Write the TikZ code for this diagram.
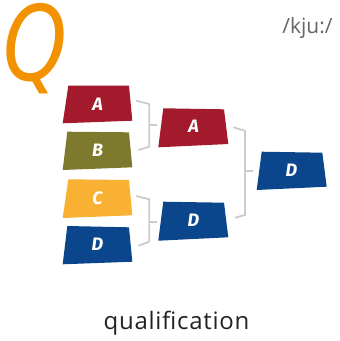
\documentclass[tikz,border=0pt]{standalone}
\usepackage{fontspec}
\setmainfont{Open Sans}
\newfontfamily\kjufont{Open Sans}
\newfontfamily\qualfont[LetterSpace=3]{Open Sans}
\newfontfamily\labfont{Fira Sans}
\newfontfamily\qfont{DejaVu Sans}
\definecolor{cred}{HTML}{A21A2B}
\definecolor{colive}{HTML}{7D7A2E}
\definecolor{cyel}{HTML}{F8B133}
\definecolor{cblue}{HTML}{0B468C}
\definecolor{corange}{HTML}{F39200}
\definecolor{cbr}{HTML}{CCCCCC}
\definecolor{ctxt}{HTML}{222222}
\definecolor{ckju}{HTML}{666666}
\begin{document}
\begin{tikzpicture}[x=1pt,y=-1pt,
  lab/.style={text=white,font=\labfont\bfseries\itshape\fontsize{18}{18}\selectfont,inner sep=0pt},
  br/.style={draw=cbr,line width=1.8pt,line join=miter}]
\useasboundingbox (0,0) rectangle (340,341);
% boxes
\fill[cred]   (68.3,85.7) -- (129,85.7) -- (132.3,120.7) -- (62.7,123.3) -- cycle;
\fill[colive] (67.3,131.7) -- (129,132.3) -- (132.3,167.3) -- (62.7,170) -- cycle;
\fill[cyel]   (68.3,179.3) -- (129,180) -- (132.3,215.3) -- (62.7,218) -- cycle;
\fill[cblue]  (67.3,226) -- (129,227.3) -- (132.3,261.7) -- (62.7,264.3) -- cycle;
\fill[cred]   (163.3,108.3) -- (224,109.3) -- (228.3,144) -- (158.3,147.3) -- cycle;
\fill[cblue]  (163.3,201.7) -- (224,202.7) -- (228.3,237.3) -- (158.3,240.7) -- cycle;
\fill[cblue]  (261.7,151.7) -- (322.3,152.7) -- (326.7,186.7) -- (256.7,190) -- cycle;
% labels
\node[lab] (a1) at (97.5,104) {A};
\node[lab] (b1) at (97.5,150) {B};
\node[lab] (c1) at (97.5,198) {C};
\node[lab] (d1) at (97.5,244.5) {D};
\node[lab] (a2) at (193.5,126.5) {A};
\node[lab] (d2) at (193.5,220) {D};
\node[lab] (d3) at (291.5,170) {D};
% brackets
\draw[br] (136,100.7) -- (149.3,104) -- (149.3,146.7) -- (138.3,150);
\draw[br] (149.3,125) -- (156.7,125);
\draw[br] (136,196) -- (149.3,199.3) -- (149.3,241.7) -- (138.3,245.7);
\draw[br] (149.3,221.7) -- (156.7,221.7);
\draw[br] (233.3,127.3) -- (245,130.7) -- (245,215) -- (235,217.7);
\draw[br] (245,170.7) -- (253.3,170.7);
% texts
\node[text=corange,font=\qfont\itshape\fontsize{104}{104}\selectfont,inner sep=0pt,xscale=0.78] (q) at (35,49) {Q};
\node[text=ckju,font=\kjufont\fontsize{21}{21}\selectfont,inner sep=0pt] (kju) at (307.5,28) {/kju:/};
\node[text=ctxt,font=\qualfont\fontsize{24}{24}\selectfont,inner sep=0pt] (qual) at (176.5,323) {qualification};
\end{tikzpicture}
\end{document}
